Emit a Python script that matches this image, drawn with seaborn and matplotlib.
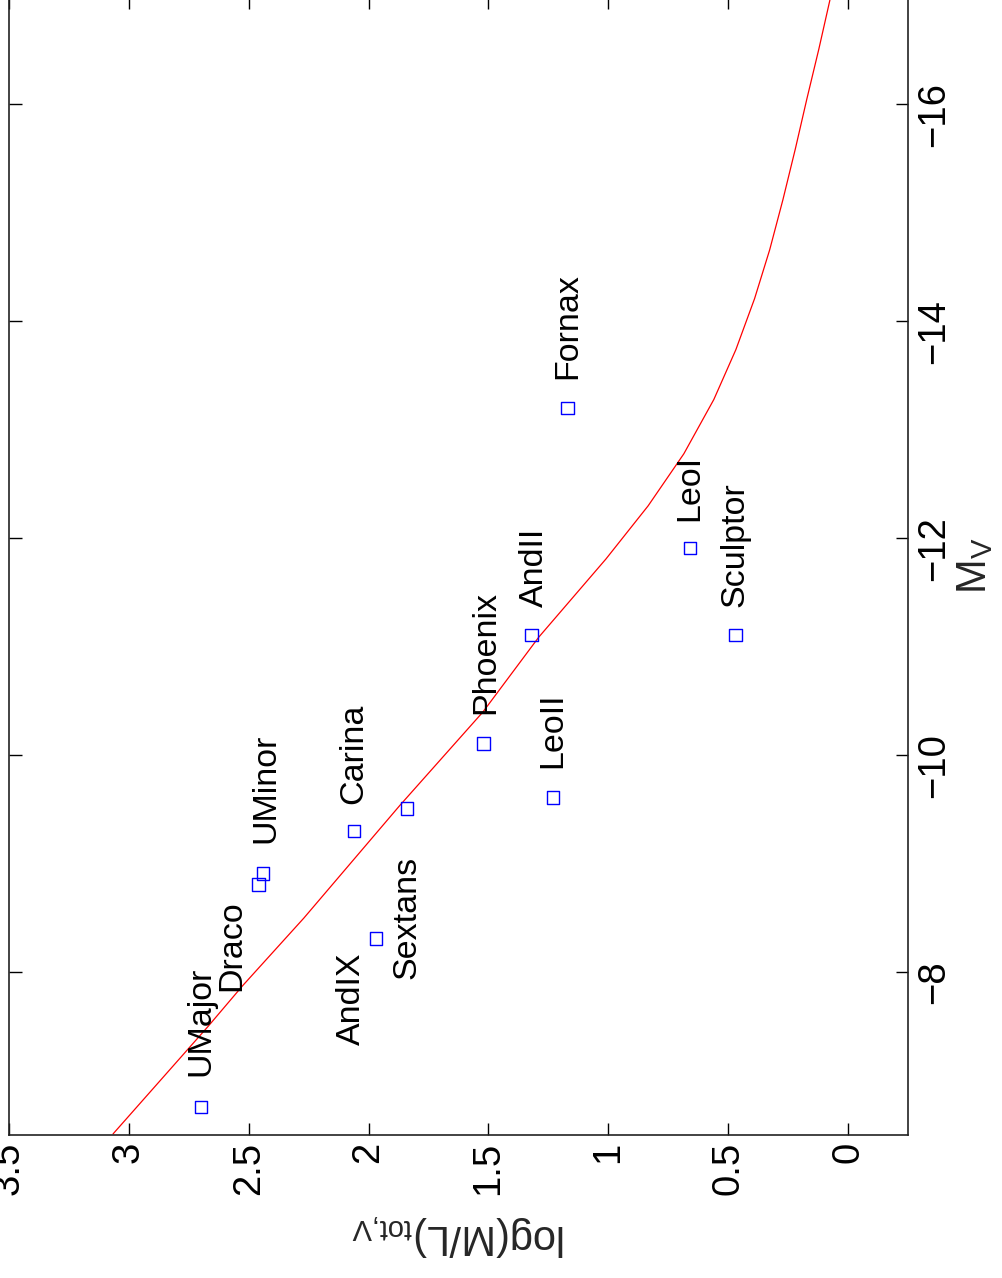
import matplotlib
matplotlib.use("Agg")
import matplotlib.pyplot as plt
import matplotlib.transforms as mtransforms
import pandas as pd
import seaborn as sns

# Dwarf spheroidal galaxies: absolute V magnitude and total mass-to-light ratio
galaxies = ["UMajor", "Draco", "UMinor", "Carina", "AndIX", "Sextans",
            "Phoenix", "LeoII", "AndII", "Sculptor", "Fornax", "LeoI"]
mv_abs = [-6.76, -8.81, -8.91, -9.30, -8.31, -9.51,
          -10.11, -9.61, -11.11, -11.11, -13.20, -11.91]
log_ml = [2.70, 2.46, 2.44, 2.06, 1.97, 1.84,
          1.52, 1.23, 1.32, 0.47, 1.17, 0.66]

# where each name is written
label_log = [2.70, 2.57, 2.43, 2.06, 2.07, 1.84,
             1.51, 1.23, 1.31, 0.47, 1.17, 0.66]
label_mv = [-7.04, -7.83, -9.19, -9.55, -7.33, -7.94,
            -10.38, -9.88, -11.37, -11.37, -13.47, -12.16]

# dark-halo model curve
model_mv = [-6.51, -7.50, -7.88, -8.50, -9.54, -10.40, -11.09, -11.81,
            -12.30, -12.78, -13.28, -13.74, -14.21, -14.66, -15.12,
            -15.59, -16.05, -16.51, -16.97]
model_log = [3.066, 2.670, 2.524, 2.270, 1.869, 1.523, 1.290, 1.010,
             0.834, 0.685, 0.560, 0.468, 0.390, 0.327, 0.272,
             0.220, 0.172, 0.122, 0.075]

log_ticks = [0, 0.5, 1, 1.5, 2, 2.5, 3, 3.5]
log_ticklabels = ["0", "0.5", "1", "1.5", "2", "2.5", "3", "3.5"]
mv_ticks = [-16, -14, -12, -10, -8]
mv_ticklabels = ["\u221216", "\u221214", "\u221212", "\u221210", "\u22128"]

sns.set_style("white")
plt.rcParams["font.family"] = ["Liberation Sans", "DejaVu Sans"]
plt.rcParams["mathtext.fontset"] = "custom"
plt.rcParams["mathtext.rm"] = "Liberation Sans"
plt.rcParams["mathtext.it"] = "Liberation Sans:italic"

points = pd.DataFrame({"name": galaxies, "mv": mv_abs, "logml": log_ml})
model = pd.DataFrame({"mv": model_mv, "logml": model_log})

fig = plt.figure(figsize=(10.03, 12.78), dpi=100)
ax = fig.add_axes([9 / 1003, 143 / 1278, 899 / 1003, 1139 / 1278])

sns.lineplot(data=model, x="logml", y="mv", sort=False, estimator=None,
             color="#ff0000", linewidth=0.9, ax=ax)
sns.scatterplot(data=points, x="logml", y="mv", marker="s", s=80,
                facecolor="none", edgecolor="#0000ff", linewidth=1.0,
                ax=ax, zorder=3)

for name, lx, ly in zip(galaxies, label_log, label_mv):
    ax.text(lx, ly, name, rotation=90, ha="center", va="bottom",
            fontsize=24.5, color="black")

ax.set_xlim(3.5, -0.25)
ax.set_ylim(-6.5, -17)

ax.set_xticks(log_ticks)
ax.set_xticklabels(log_ticklabels)
ax.set_yticks(mv_ticks)
ax.set_yticklabels(mv_ticklabels)

ax.tick_params(axis="both", direction="in", length=9, width=1.0,
               top=True, bottom=True, left=True, right=True,
               labelleft=False, labelright=True, labeltop=False,
               labelbottom=True, labelsize=27.5, colors="black")
ax.tick_params(axis="x", pad=5)
ax.tick_params(axis="y", pad=6)

for lbl in ax.get_xticklabels():
    lbl.set_rotation(90)
    lbl.set_va("top")
    lbl.set_ha("center")

shift = mtransforms.ScaledTranslation(0, -10 / 100, fig.dpi_scale_trans)
for lbl in ax.get_yticklabels():
    lbl.set_rotation(90)
    lbl.set_va("center")
    lbl.set_ha("left")
    lbl.set_transform(lbl.get_transform() + shift)

for side in ["left", "right", "top", "bottom"]:
    ax.spines[side].set_visible(True)
    ax.spines[side].set_color("#222222")
    ax.spines[side].set_linewidth(1.2)

ax.set_xlabel("log(M/L)$_{\\mathrm{tot{,}V}}$", rotation=180, fontsize=30,
              labelpad=12)
ax.yaxis.set_label_position("right")
ax.set_ylabel("M$_{\\mathrm{V}}$", rotation=90, fontsize=30, labelpad=2)

fig.savefig("out.png", dpi=100)
